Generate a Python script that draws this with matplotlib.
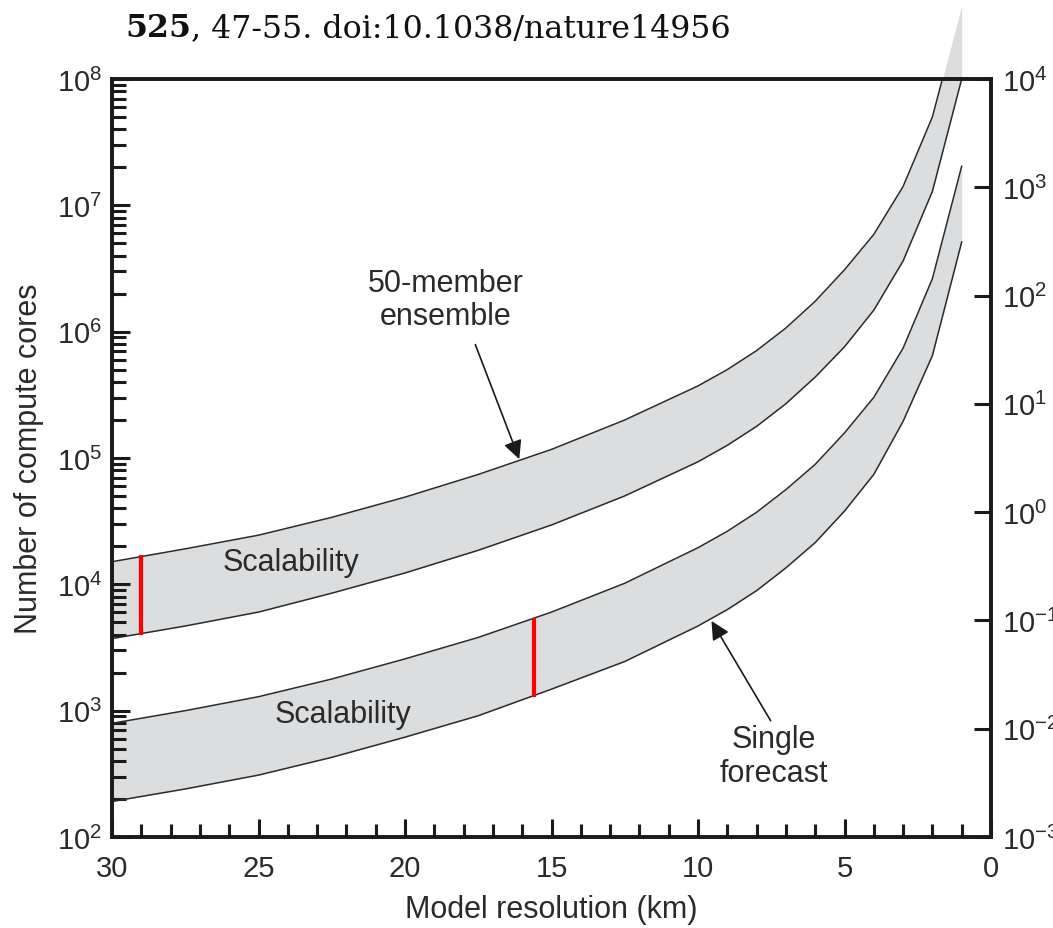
import matplotlib
matplotlib.use("Agg")
import matplotlib.pyplot as plt
from matplotlib.ticker import LogLocator, FixedLocator, NullFormatter, NullLocator

plt.rcParams['font.family'] = ['Liberation Sans', 'DejaVu Sans']
plt.rcParams['mathtext.fontset'] = 'custom'
plt.rcParams['mathtext.rm'] = 'Liberation Sans'
plt.rcParams['mathtext.it'] = 'Liberation Sans:italic'
plt.rcParams['mathtext.bf'] = 'Liberation Sans:bold'

# ---------------- data ----------------
resolution_km = [30, 27.5, 25, 22.5, 20, 17.5, 15, 12.5, 10, 9, 8, 7, 6, 5, 4, 3, 2, 1]

ensemble_high = [1.51e4, 1.91e4, 2.45e4, 3.39e4, 4.90e4, 7.41e4, 1.17e5, 2.00e5, 3.72e5,
                 5.01e5, 7.08e5, 1.07e6, 1.74e6, 3.09e6, 5.89e6, 1.41e7, 5.01e7, 3.80e8]
ensemble_low = [3.72e3, 4.68e3, 6.03e3, 8.51e3, 1.23e4, 1.86e4, 2.95e4, 5.01e4, 9.33e4,
                1.26e5, 1.78e5, 2.69e5, 4.37e5, 7.59e5, 1.48e6, 3.63e6, 1.29e7, 1.00e8]

single_high = [794, 1000, 1290, 1780, 2570, 3800, 6030, 1.02e4, 1.95e4,
               2.63e4, 3.72e4, 5.62e4, 8.91e4, 1.58e5, 3.02e5, 7.41e5, 2.63e6, 2.04e7]
single_low = [191, 240, 309, 427, 617, 912, 1480, 2450, 4680,
              6310, 8910, 1.35e4, 2.14e4, 3.80e4, 7.41e4, 1.95e5, 6.46e5, 5.13e6]

red_km = [29, 15.6]
red_low = [4.0e3, 1.28e3]
red_high = [1.7e4, 5.4e3]

x_major_ticks = [30, 25, 20, 15, 10, 5, 0]
right_ticks = [1e-3, 1e-2, 1e-1, 1e0, 1e1, 1e2, 1e3, 1e4]

# ---------------- figure ----------------
fig = plt.figure(figsize=(10.53, 9.29), dpi=100)
ax = fig.add_axes([112 / 1053, 91 / 929, 879 / 1053, 758 / 929])

band_color = '#dcdddf'
line_color = '#2b2b2b'
text_color = '#2a2a2a'
axis_color = '#1a1a1a'

for lo, hi in [(ensemble_low, ensemble_high), (single_low, single_high)]:
    ax.fill_between(resolution_km, lo, hi, color=band_color, lw=0, clip_on=False, zorder=1)
    ax.plot(resolution_km, hi, color=line_color, lw=1.1, zorder=2)
    ax.plot(resolution_km, lo, color=line_color, lw=1.1, zorder=2)

ax.vlines(red_km, red_low, red_high, colors='#ff0000', lw=3.0, zorder=3)

ax.set_yscale('log')
ax.set_ylim(1e2, 1e8)
ax.set_xlim(30, 0)

ax.xaxis.set_major_locator(FixedLocator(x_major_ticks))
ax.xaxis.set_minor_locator(FixedLocator(list(range(1, 30))))
ax.yaxis.set_major_locator(LogLocator(base=10, numticks=20))
ax.yaxis.set_minor_locator(LogLocator(base=10, subs=range(2, 10), numticks=20))
ax.yaxis.set_minor_formatter(NullFormatter())

ax.tick_params(axis='x', which='major', direction='in', length=13, width=2.2,
               labelsize=21, pad=12, top=False, colors=axis_color, labelcolor=text_color)
ax.tick_params(axis='x', which='minor', direction='in', length=9.5, width=2.2, top=False,
               colors=axis_color)
ax.tick_params(axis='y', which='major', direction='in', length=13, width=2.2,
               labelsize=21, pad=7, right=False, colors=axis_color, labelcolor=text_color)
ax.tick_params(axis='y', which='minor', direction='in', length=10, width=2.2, right=False,
               colors=axis_color)

for s in ax.spines.values():
    s.set_linewidth(2.6)
    s.set_color(axis_color)

ax.set_xlabel('Model resolution (km)', fontsize=22, color=text_color, labelpad=9)
ax.set_ylabel('Number of compute cores', fontsize=22, color=text_color, labelpad=9)

# right axis
ax2 = ax.twinx()
ax2.set_yscale('log')
ax2.set_ylim(1e-3, 1e4)
ax2.yaxis.set_major_locator(FixedLocator(right_ticks))
ax2.yaxis.set_minor_locator(NullLocator())
ax2.tick_params(axis='y', which='major', direction='in', length=12, width=2.2,
                labelsize=21, pad=8, colors=axis_color, labelcolor=text_color)
for s in ax2.spines.values():
    s.set_linewidth(2.6)
    s.set_color(axis_color)

# annotations
ax.text(18.62, 1.8e6, '50-member\nensemble', fontsize=22, color=text_color,
        ha='center', va='center', linespacing=1.15)
ax.annotate('', xy=(16.1, 9.8e4), xytext=(17.6, 7.9e5),
            arrowprops=dict(arrowstyle='-|>', color=axis_color, lw=1.2,
                            mutation_scale=28, shrinkA=0, shrinkB=0))
ax.text(7.42, 437, 'Single\nforecast', fontsize=22, color=text_color,
        ha='center', va='center', linespacing=1.15)
ax.annotate('', xy=(9.54, 5.13e3), xytext=(7.52, 832),
            arrowprops=dict(arrowstyle='-|>', color=axis_color, lw=1.2,
                            mutation_scale=28, shrinkA=0, shrinkB=0))
ax.text(23.88, 1.5e4, 'Scalability', fontsize=22, color=text_color, ha='center', va='center')
ax.text(22.1, 940, 'Scalability', fontsize=22, color=text_color, ha='center', va='center')

# citation fragment above the plot
t1 = fig.text(125 / 1053, 1 - 37 / 929, '525', fontsize=22.8, fontweight='bold',
              family='DejaVu Serif', va='baseline', ha='left', color='#111111')
fig.canvas.draw()
bb = t1.get_window_extent()
fig.text(bb.x1 / fig.bbox.width, 1 - 37 / 929, ', 47-55. doi:10.1038/nature14956',
         fontsize=22.8, family='DejaVu Serif', va='baseline', ha='left', color='#111111')

fig.savefig('out.png', dpi=100)
